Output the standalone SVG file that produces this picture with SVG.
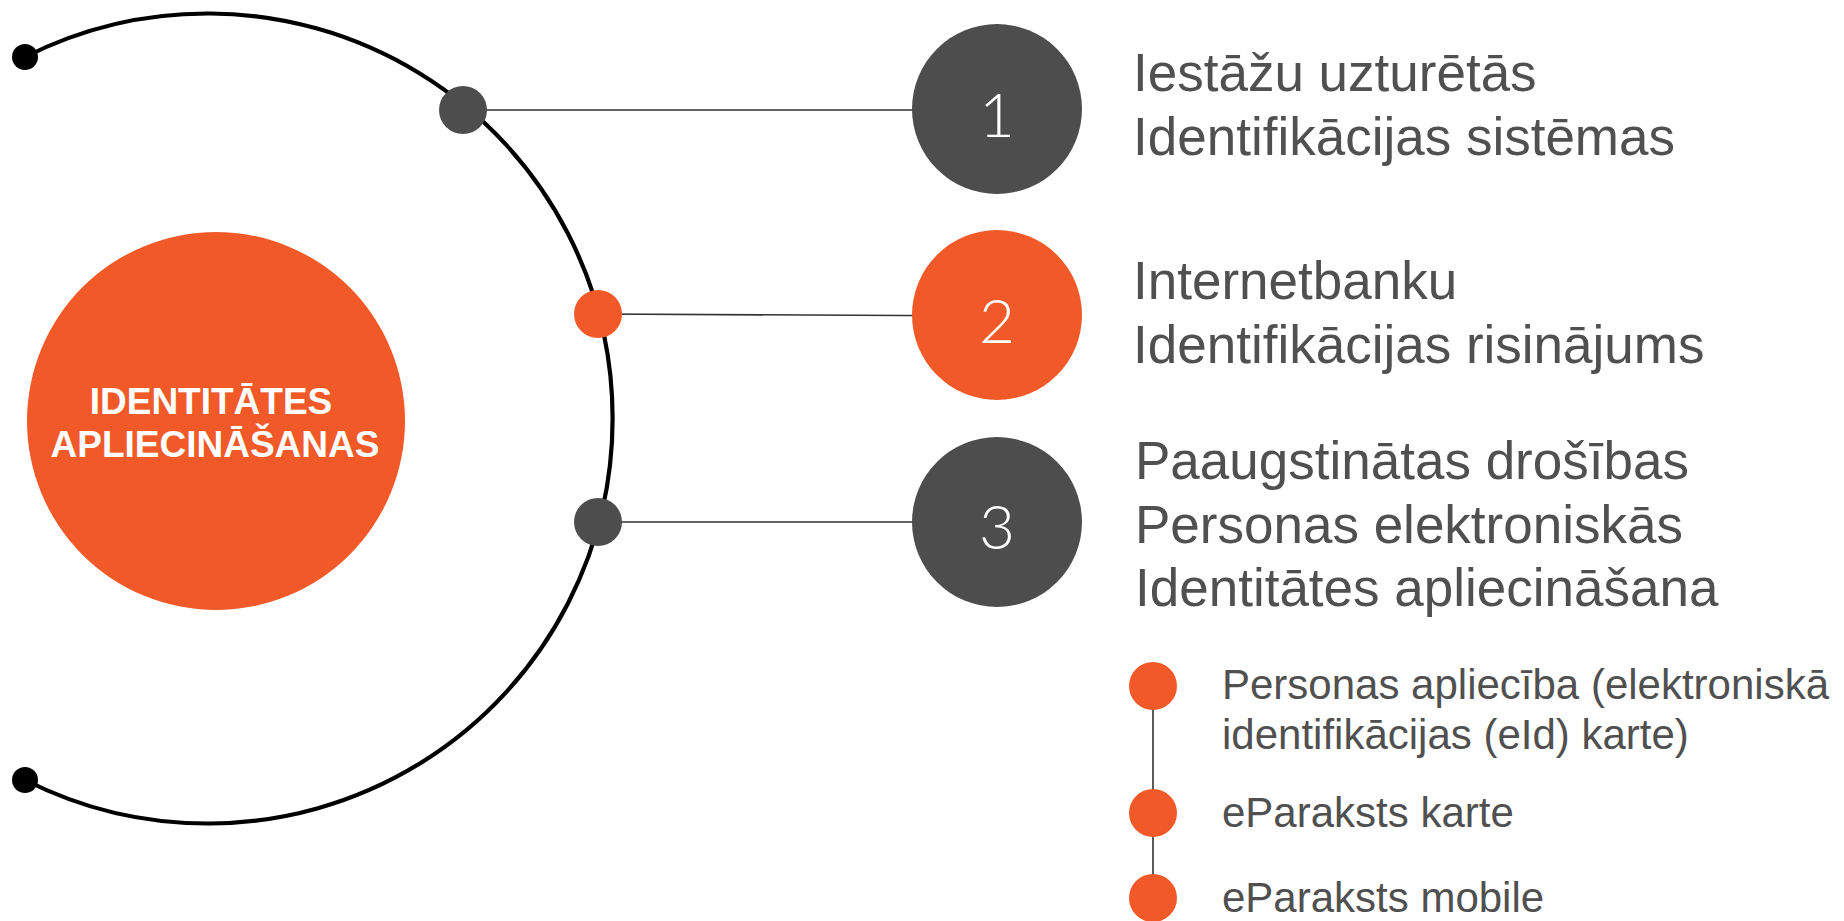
<svg xmlns="http://www.w3.org/2000/svg" width="1844" height="921" viewBox="0 0 1844 921">
<style>
.ring{fill:none;stroke:#000;stroke-width:4.2}
.conn{stroke:#333;stroke-width:1.6;fill:none}
.gray{fill:#4d4d4d}
.orange{fill:#f15a28}
.black{fill:#000}
.num{font-family:Lato,"Open Sans","Liberation Sans",sans-serif;font-weight:300;font-size:62px;fill:#fff;text-anchor:middle}
.head{font-family:"Liberation Sans",Arial,sans-serif;font-size:53px;fill:#505050}
.sub{font-family:"Liberation Sans",Arial,sans-serif;font-size:42px;fill:#505050}
.title{font-family:"Liberation Sans",Arial,sans-serif;font-size:37px;font-weight:bold;fill:#fff;text-anchor:middle}
</style>
<rect width="1844" height="921" fill="#fff"/>
<g id="connectors">
<path class="ring" d="M 25 57 A 405 405 0 1 1 25 780"/>
<line class="conn" x1="463" y1="110" x2="997" y2="110"/>
<line class="conn" x1="598" y1="314" x2="997" y2="316"/>
<line class="conn" x1="598" y1="522" x2="997" y2="522"/>
<line class="conn" x1="1153" y1="686" x2="1153" y2="900"/>
</g>
<g id="ring-end-top"><circle class="black" cx="25" cy="57" r="13"/></g>
<g id="ring-end-bottom"><circle class="black" cx="25" cy="780" r="13"/></g>
<g id="center">
<circle class="orange" cx="216" cy="421" r="189"/>
<text class="title" x="211" y="414">IDENTITĀTES</text>
<text class="title" x="215" y="457">APLIECINĀŠANAS</text>
</g>
<g id="dot1"><circle class="gray" cx="463" cy="110" r="24"/></g>
<g id="dot2"><circle class="orange" cx="598" cy="314" r="24"/></g>
<g id="dot3"><circle class="gray" cx="598" cy="522" r="24"/></g>
<g id="node1">
<circle class="gray" cx="997" cy="109" r="85"/>
<text class="num" x="997" y="137">1</text>
<text class="head" x="1133" y="91">Iestāžu uzturētās</text>
<text class="head" x="1133" y="155">Identifikācijas sistēmas</text>
</g>
<g id="node2">
<circle class="orange" cx="997" cy="315" r="85"/>
<text class="num" x="997" y="343">2</text>
<text class="head" x="1133" y="299">Internetbanku</text>
<text class="head" x="1133" y="363">Identifikācijas risinājums</text>
</g>
<g id="node3">
<circle class="gray" cx="997" cy="522" r="85"/>
<text class="num" x="997" y="549">3</text>
<text class="head" x="1135" y="479">Paaugstinātas drošības</text>
<text class="head" x="1135" y="543">Personas elektroniskās</text>
<text class="head" x="1135" y="606">Identitātes apliecināšana</text>
</g>
<g id="item1">
<circle class="orange" cx="1153" cy="686" r="24"/>
<text class="sub" x="1222" y="699">Personas apliecība (elektroniskā</text>
<text class="sub" x="1222" y="749">identifikācijas (eId) karte)</text>
</g>
<g id="item2">
<circle class="orange" cx="1153" cy="813" r="24"/>
<text class="sub" x="1222" y="827">eParaksts karte</text>
</g>
<g id="item3">
<circle class="orange" cx="1153" cy="898" r="24"/>
<text class="sub" x="1222" y="912">eParaksts mobile</text>
</g>
</svg>
